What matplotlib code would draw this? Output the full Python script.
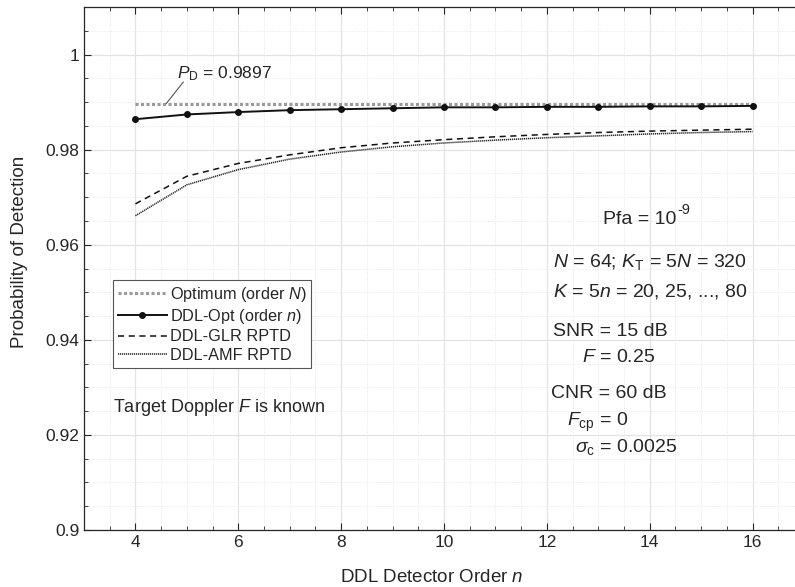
import numpy as np
import matplotlib
matplotlib.use("Agg")
import matplotlib.pyplot as plt
from matplotlib.ticker import MultipleLocator

plt.rcParams['font.family'] = ['Liberation Sans', 'DejaVu Sans']
plt.rcParams['mathtext.fontset'] = 'custom'
plt.rcParams['mathtext.rm'] = 'Liberation Sans'
plt.rcParams['mathtext.it'] = 'Liberation Sans:italic'
plt.rcParams['mathtext.bf'] = 'Liberation Sans:bold'

n_order = [4, 5, 6, 7, 8, 9, 10, 11, 12, 13, 14, 15, 16]
pd_optimum = 0.9897
pd_ddl_opt = [0.9864, 0.9874, 0.9879, 0.9883, 0.9885, 0.9887, 0.9889,
              0.9889, 0.9890, 0.9890, 0.9891, 0.9891, 0.9892]
pd_glr = [0.9686, 0.9744, 0.9771, 0.9789, 0.9804, 0.9814, 0.9821,
          0.9827, 0.9832, 0.9836, 0.9839, 0.9841, 0.9843]
pd_amf = [0.9661, 0.9726, 0.9758, 0.9780, 0.9795, 0.9806, 0.9814,
          0.9820, 0.9825, 0.9829, 0.9833, 0.9836, 0.9838]

W, H = 795, 587
fig = plt.figure(figsize=(W/100, H/100), dpi=100)
ax_l, ax_r, ax_t, ax_b = 84, 804, 7, 530
ax = fig.add_axes([ax_l/W, 1-ax_b/H, (ax_r-ax_l)/W, (ax_b-ax_t)/H])

dark = '#262626'
ax.plot(n_order, [pd_optimum]*len(n_order), color='#9a9a9a', lw=2.2,
        linestyle=(0, (1, 0.8)), label='Optimum (order $N$)')
ax.plot(n_order, pd_ddl_opt, color='#111111', lw=1.4, marker='o', ms=4,
        label='DDL-Opt (order $n$)')
ax.plot(n_order, pd_glr, color='#111111', lw=1.1, linestyle=(0, (4, 3)),
        label='DDL-GLR RPTD')
ax.plot(n_order, pd_amf, color='#222222', lw=1.1, linestyle=(0, (0.8, 0.5)),
        label='DDL-AMF RPTD')

ax.set_xlim(3, 17)
ax.set_ylim(0.9, 1.01)
ax.xaxis.set_major_locator(MultipleLocator(2))
ax.xaxis.set_minor_locator(MultipleLocator(0.5))
ax.yaxis.set_minor_locator(MultipleLocator(0.005))
ax.set_yticks([0.9, 0.92, 0.94, 0.96, 0.98, 1.0])
ax.set_yticklabels(['0.9', '0.92', '0.94', '0.96', '0.98', '1'])
ax.tick_params(which='both', direction='in', top=True, right=True,
               colors=dark, labelcolor=dark, labelsize=12.5)
ax.tick_params(which='major', length=5, width=0.8)
ax.tick_params(which='minor', length=3, width=0.6)
ax.grid(which='major', color='#e3e3e3', lw=0.9)
ax.grid(which='minor', color='#e8e8e8', lw=0.7, linestyle=(0, (1, 1.5)))
ax.set_axisbelow(True)
for s in ax.spines.values():
    s.set_color(dark)
    s.set_linewidth(0.9)

fig.text(20/W, 1-252/H, 'Probability of Detection', rotation=90,
         ha='center', va='center', fontsize=13.5, color=dark)
fig.text(432/W, 1-577/H, 'DDL Detector Order $n$', ha='center', va='center',
         fontsize=13.5, color=dark)

leg = ax.legend(loc='upper left', bbox_to_anchor=((113-ax_l)/(ax_r-ax_l), 1-(280-ax_t)/(ax_b-ax_t)),
                fontsize=11.7, frameon=True, fancybox=False, framealpha=1,
                edgecolor='#555555', handlelength=3.0, handletextpad=0.2,
                borderpad=0.3, labelspacing=0.2, borderaxespad=0)
leg.get_frame().set_linewidth(0.8)
for t in leg.get_texts():
    t.set_color(dark)

ax.text(4.8, 0.9950, '$P_{\\rm D}$ = 0.9897', fontsize=12.5, color=dark,
        ha='left', va='baseline')
ax.plot([4.6, 4.93], [pd_optimum, 0.9942], color='#555555', lw=0.8)

def ftxt(x, y, s, fs=14):
    return fig.text(x/W, 1-y/H, s, ha='left', va='center', fontsize=fs, color=dark)

ax.text(3.56, 0.9258, 'Target Doppler $F$ is known', fontsize=13, color=dark,
        ha='left', va='center')
t_pfa = ftxt(603, 219, 'Pfa = 10')
fig.canvas.draw()
bb = t_pfa.get_window_extent()
fig.text(bb.x1/W + 0.5/W, 1-210/H, '-9', ha='left', va='center', fontsize=10.5, color=dark)
ftxt(553, 262, '$N$ = 64; $K_{\\rm T}$ = 5$N$ = 320')
ftxt(553, 292, '$K$ = 5$n$ = 20, 25, ..., 80')
ftxt(553, 331, 'SNR = 15 dB')
ftxt(582, 357, '$F$ = 0.25')
ftxt(551, 393, 'CNR = 60 dB')
ftxt(567, 422, '$F_{\\rm cp}$ = 0')
ftxt(575, 447, '$\\sigma_{\\rm c}$ = 0.0025')

fig.savefig('out.png', dpi=100)
